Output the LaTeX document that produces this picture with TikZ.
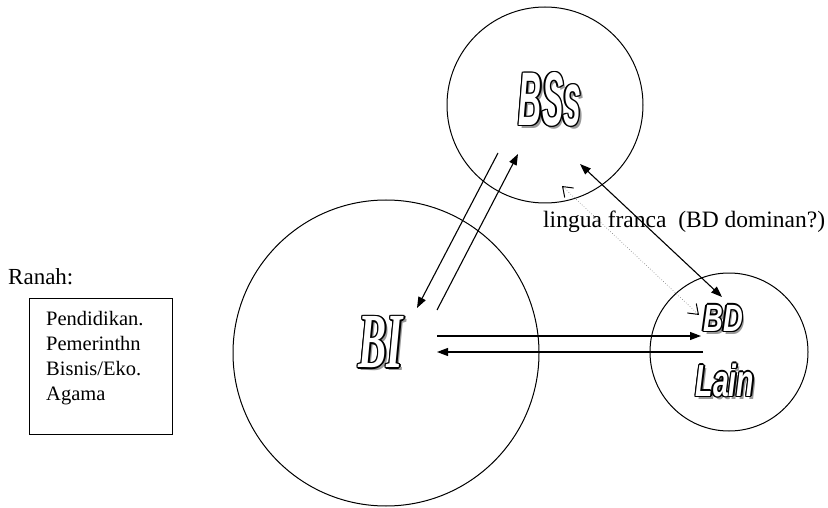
\documentclass[tikz,border=0pt]{standalone}
\usepackage{fontspec}
\setmainfont{Liberation Serif}
\newfontfamily\wsans{Liberation Sans}
\usepackage{graphicx}
\usetikzlibrary{arrows.meta}
\newcommand\ocp[3]{\rlap{\hspace*{#1}\raisebox{#2}{\textcolor{black}{#3}}}}
\newcommand\wordart[1]{\leavevmode
  \rlap{\hspace*{2.8pt}\raisebox{-2.8pt}{\textcolor{black!40}{#1}}}%
  \ocp{1.4pt}{0pt}{#1}\ocp{-1.4pt}{0pt}{#1}\ocp{0pt}{1.4pt}{#1}\ocp{0pt}{-1.4pt}{#1}%
  \ocp{1pt}{1pt}{#1}\ocp{-1pt}{1pt}{#1}\ocp{1pt}{-1pt}{#1}\ocp{-1pt}{-1pt}{#1}%
  \textcolor{white}{#1}}
\tikzset{
  circ/.style={draw, circle, line width=1pt, inner sep=0pt},
  arr/.style={line width=1.1pt, -{Triangle[length=11pt,width=8pt]}},
  darr/.style={line width=1.1pt, {Triangle[length=11pt,width=8pt]}-{Triangle[length=11pt,width=8pt]}},
  dotarr/.style={black!55, dotted, line width=0.6pt,
    {Straight Barb[length=9pt,width=13pt,black,line width=1pt]}-{Straight Barb[length=9pt,width=13pt,black,line width=1pt]}},
  txt/.style={anchor=base west, inner sep=0pt, font=\fontsize{20.5}{25}\selectfont},
}
\begin{document}
\begin{tikzpicture}[x=1pt,y=-1pt]
\useasboundingbox (0,0) rectangle (828,508);
% circles
\node[circ, minimum size=196] (bss) at (545,105) {};
\node[circ, minimum size=306] (bi) at (386,353) {};
\node[circ, minimum size=158] (bd) at (729,352) {};
% labels
\node (lbss) at (550,100) {\wsans\bfseries\itshape\fontsize{76}{76}\selectfont\wordart{\scalebox{0.42}[1]{BSs}}};
\node (lbi) at (381,343) {\bfseries\itshape\fontsize{78}{78}\selectfont\wordart{\scalebox{0.54}[1]{BI}}};
\node (lbd) at (723,319) {\wsans\bfseries\itshape\fontsize{38}{38}\selectfont\wordart{\scalebox{0.72}[1]{BD}}};
\node (llain) at (725,381) {\wsans\bfseries\itshape\fontsize{45}{45}\selectfont\wordart{\scalebox{0.63}[1]{Lain}}};
% endpoints
\coordinate (a1s) at (498,153); \coordinate (a1e) at (417,308);
\coordinate (a2s) at (437,310); \coordinate (a2e) at (518,154);
\coordinate (d1) at (580,164); \coordinate (d2) at (722,297);
\coordinate (p1) at (562,186); \coordinate (p2) at (699,315);
\coordinate (h1s) at (437,336); \coordinate (h1e) at (701,336);
\coordinate (h2s) at (703,352); \coordinate (h2e) at (437,352);
% connectors
\draw[arr] (a1s) -- (a1e);
\draw[arr] (a2s) -- (a2e);
\draw[darr] (d1) -- (d2);
\draw[dotarr] (p1) -- (p2);
\draw[arr] (h1s) -- (h1e);
\draw[arr] (h2s) -- (h2e);
% texts
\node[anchor=base west, inner sep=0pt, font=\fontsize{23.5}{28}\selectfont] (lf) at (543,228) {lingua franca\ \ (BD dominan?)};
\node[anchor=base west, inner sep=0pt, font=\fontsize{23}{28}\selectfont] (ranah) at (8,284) {Ranah:};
\node[draw, line width=1pt, minimum width=143, minimum height=136, inner sep=0pt] (box) at (100.5,366) {};
\node[txt] (t1) at (46,325) {Pendidikan.};
\node[txt] (t2) at (46,350) {Pemerinthn};
\node[txt] (t3) at (46,375) {Bisnis/Eko.};
\node[txt] (t4) at (46,400) {Agama};
\end{tikzpicture}
\end{document}
